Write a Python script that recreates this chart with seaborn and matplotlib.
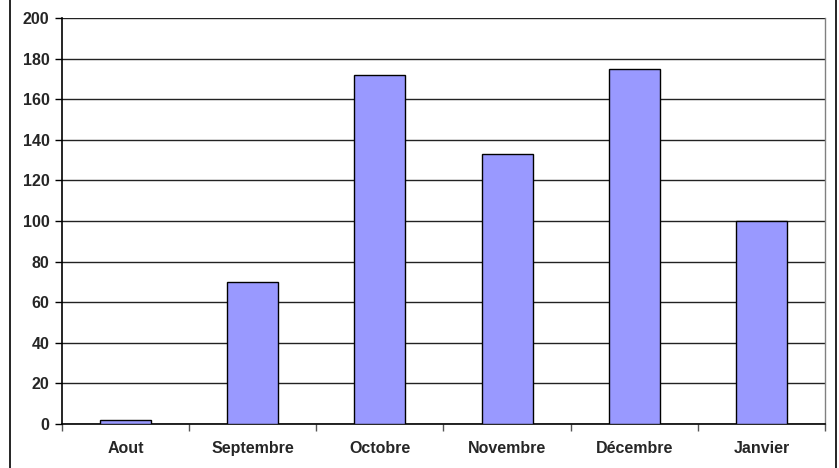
import matplotlib
matplotlib.use('Agg')
import matplotlib.pyplot as plt
import matplotlib.patches as patches
from matplotlib.ticker import FixedLocator
import seaborn as sns
import pandas as pd

# données
mois = ['Aout', 'Septembre', 'Octobre', 'Novembre', 'Décembre', 'Janvier']
valeurs = [2, 70, 172, 133, 175, 100]
y_ticks = [0, 20, 40, 60, 80, 100, 120, 140, 160, 180, 200]

sns.set_style('white')
plt.rcParams['font.family'] = ['Liberation Sans', 'DejaVu Sans']

df = pd.DataFrame({'mois': mois, 'valeur': valeurs})

fig = plt.figure(figsize=(8.39, 4.68), dpi=100)
ax = fig.add_axes([62 / 839, 44 / 468, 763 / 839, 406 / 468])

sns.barplot(data=df, x='mois', y='valeur', ax=ax, color='#9999FF',
            saturation=1, width=0.4, edgecolor='black', linewidth=1, zorder=3)

ax.set_ylim(0, 200)
ax.set_xlim(-0.5, len(mois) - 0.5)
ax.set_yticks(y_ticks)
ax.yaxis.grid(True, color='#222222', linewidth=1)
ax.set_axisbelow(True)
ax.set_xlabel('')
ax.set_ylabel('')

# graduations entre les catégories
ax.xaxis.set_minor_locator(FixedLocator([i + 0.5 for i in range(-1, len(mois))]))
ax.tick_params(axis='x', which='major', length=0, pad=12)
ax.tick_params(axis='x', which='minor', length=5, width=1, color='#555555', direction='out', bottom=True)
ax.tick_params(axis='y', length=5, width=1, color='black', direction='out', left=True, pad=4)

for lbl in ax.get_xticklabels() + ax.get_yticklabels():
    lbl.set_fontweight('bold')
    lbl.set_fontsize(11.5)

for side in ['left', 'bottom']:
    ax.spines[side].set_color('black')
    ax.spines[side].set_linewidth(1.2)
ax.spines['top'].set_visible(False)
ax.spines['right'].set_color('#808080')
ax.spines['right'].set_linewidth(1)

# cadre extérieur
fig.patches.append(patches.Rectangle((10 / 839, -0.01), 826 / 839, 1.02,
                                     transform=fig.transFigure, fill=False,
                                     edgecolor='black', linewidth=1.2))

fig.savefig('out.png', dpi=100)
plt.close()
